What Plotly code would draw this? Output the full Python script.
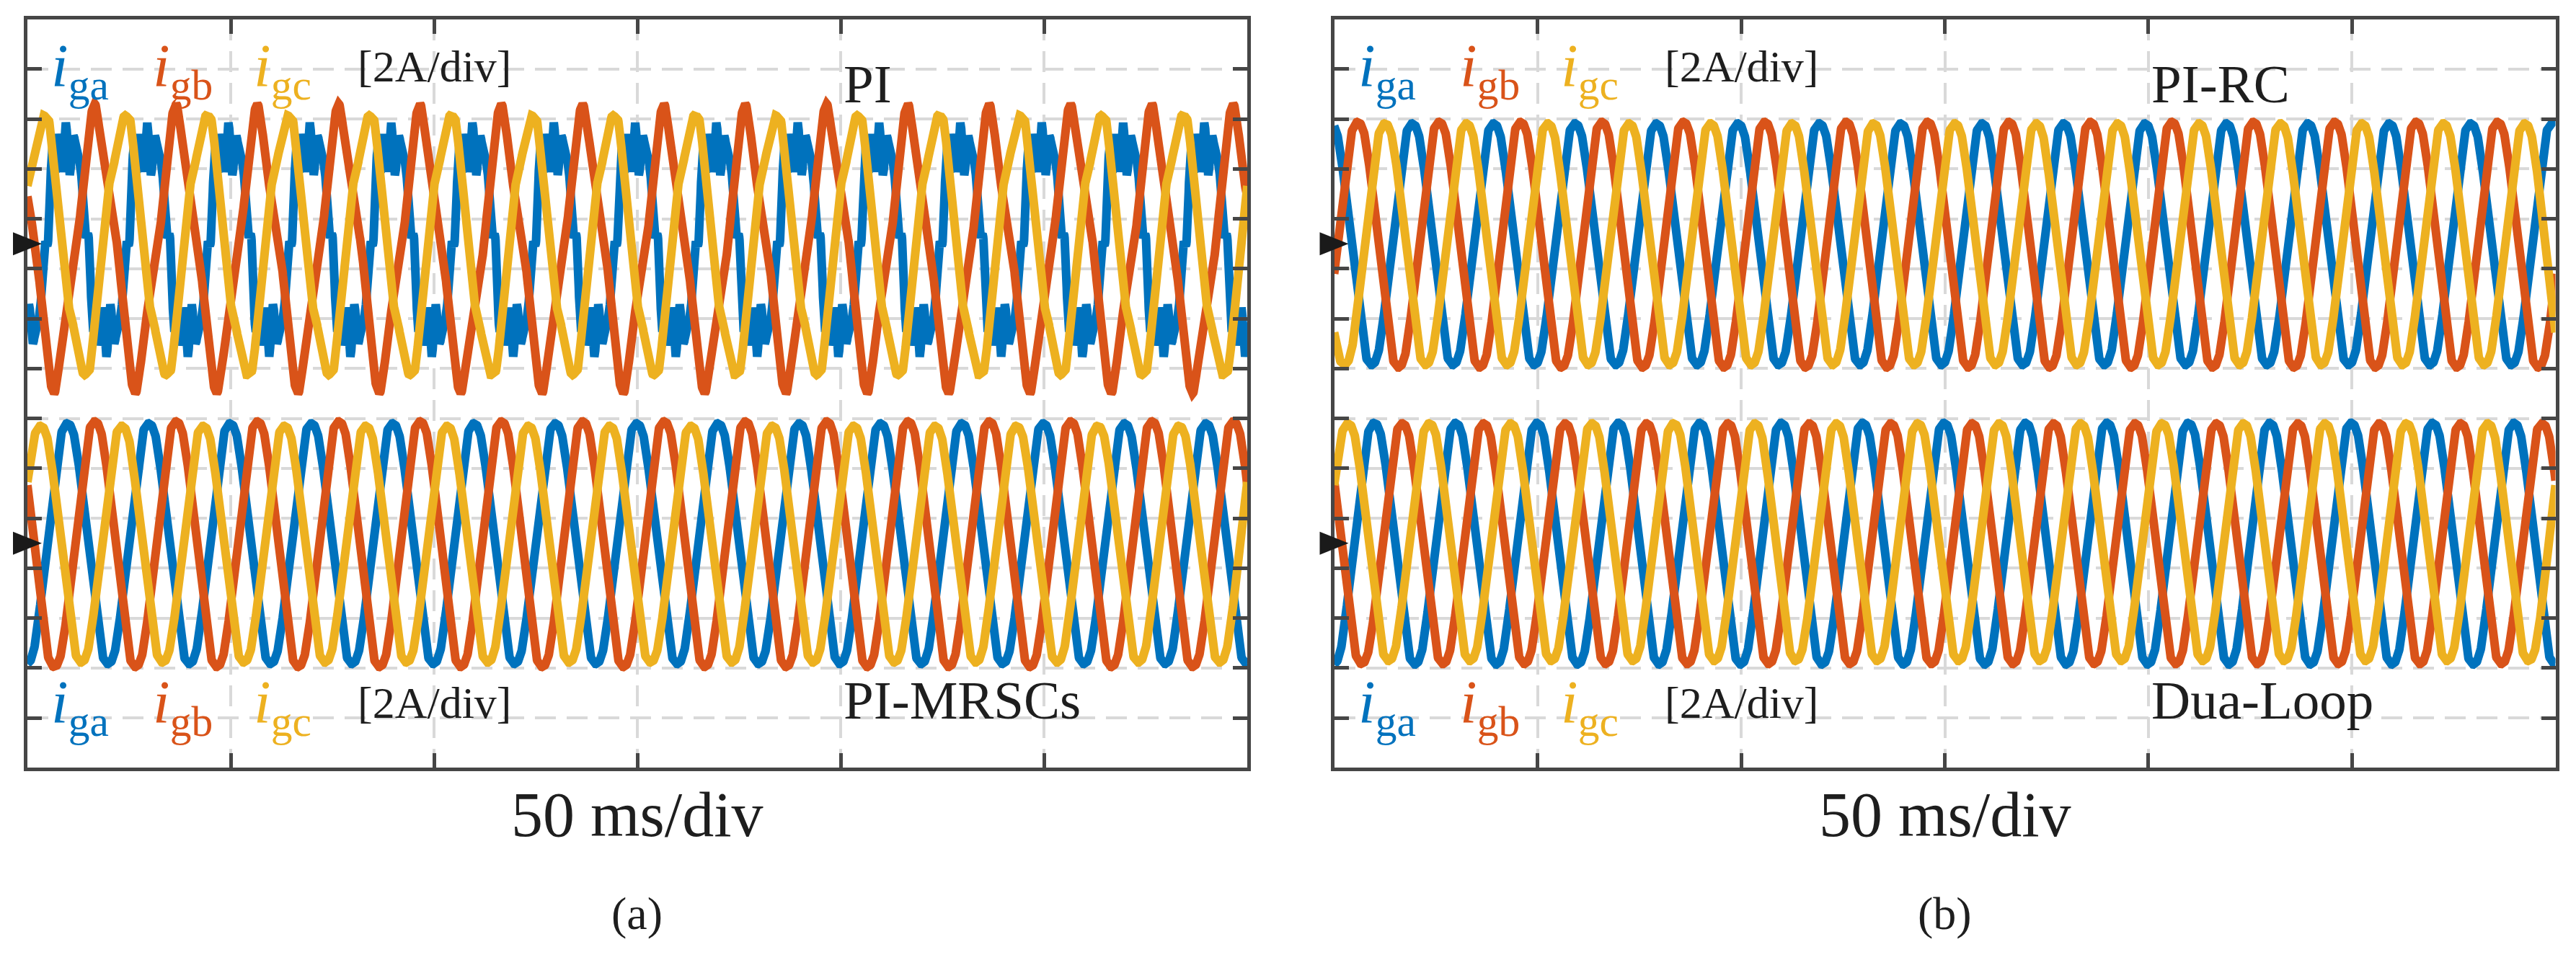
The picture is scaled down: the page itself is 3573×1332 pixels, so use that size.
import numpy as np
import plotly.graph_objects as go

# ---------------- scales ----------------
MS_PER_DIV = 50          # "50 ms/div"
N_DIV_X = 6
N_DIV_Y = 15
FREQ_HZ = 50
T_END_MS = MS_PER_DIV * N_DIV_X

PHASE_NAMES = ["ga", "gb", "gc"]
COLORS = ["#0072BD", "#D95319", "#EDB120"]

# ---------------- panel (a), upper group: PI ----------------
PI_CENTER = [10.58, 10.40, 10.47]      # div
PI_PEAK_MS = [9.6, 16.75, 3.6]          # time of first peak (ms)
PI_AMP = [2.12, 2.55, 2.50]             # fundamental amplitude (div)
PI_HARM_GA = [(3, -0.36, 0), (7, 0.18, 40), (11, 0.34, 10), (13, 0.12, 70)]
PI_HARM_GB = [(3, 0.36, 39), (11, 0.05, 0)]
PI_HARM_GC = [(3, 0.30, -90), (11, 0.05, 0)]

# ---------------- panel (a), lower group: PI-MRSCs ----------------
MRSC_CENTER = [4.49, 4.48, 4.48]
MRSC_PEAK_MS = [9.85, 16.6, 3.25]
MRSC_AMP = [2.45, 2.50, 2.41]
MRSC_HARM_GA = [(5, 0.04, 180)]
MRSC_HARM_GB = [(5, 0.04, 180)]
MRSC_HARM_GC = [(5, 0.04, 180)]

# ---------------- panel (b), upper group: PI-RC ----------------
RC_CENTER = [10.49, 10.48, 10.49]
RC_PEAK_MS = [19.2, 5.8, 12.5]
RC_AMP = [2.46, 2.50, 2.46]
RC_HARM_GA = [(5, 0.04, 180)]
RC_HARM_GB = [(5, 0.04, 180)]
RC_HARM_GC = [(5, 0.04, 180)]

# ---------------- panel (b), lower group: Dua-Loop ----------------
DL_CENTER = [4.49, 4.49, 4.52]
DL_PEAK_MS = [9.85, 16.75, 3.4]
DL_AMP = [2.46, 2.45, 2.42]
DL_HARM_GA = [(5, 0.04, 180)]
DL_HARM_GB = [(5, 0.04, 180)]
DL_HARM_GC = [(5, 0.04, 180)]

# channel reference markers (div)
MARKER_LEVELS = [10.5, 4.5]

# labels
GROUP_TITLES = [["PI", "PI-MRSCs"], ["PI-RC", "Dua-Loop"]]
SCALE_TEXT = "[2A/div]"
X_TITLE = "50 ms/div"
PANEL_TAGS = ["(a)", "(b)"]
LEGEND_X_MS = [5.5, 30.5, 55.3]
SCALE_X_MS = 80.9
TITLE_X_MS = 200.4

GROUPS = [
    [  # panel (a)
        (PI_CENTER, PI_PEAK_MS, PI_AMP, [PI_HARM_GA, PI_HARM_GB, PI_HARM_GC]),
        (MRSC_CENTER, MRSC_PEAK_MS, MRSC_AMP, [MRSC_HARM_GA, MRSC_HARM_GB, MRSC_HARM_GC]),
    ],
    [  # panel (b)
        (RC_CENTER, RC_PEAK_MS, RC_AMP, [RC_HARM_GA, RC_HARM_GB, RC_HARM_GC]),
        (DL_CENTER, DL_PEAK_MS, DL_AMP, [DL_HARM_GA, DL_HARM_GB, DL_HARM_GC]),
    ],
]

t = np.linspace(0, T_END_MS, 4001)


def wave(center, peak_ms, amp, harmonics):
    theta = 2 * np.pi * FREQ_HZ * (t - peak_ms) / 1000.0
    y = center + amp * np.cos(theta)
    for k, a, ph in harmonics:
        y = y + a * np.cos(k * theta + np.deg2rad(ph))
    return y


W, H = 3573, 1332
X_DOMAINS = [[38 / W, 1730 / W], [1850.5 / W, 3544.5 / W]]
Y_DOMAIN = [1 - 1065.25 / H, 1 - 26.5 / H]

AX_COLOR = "#464646"
GRID_COLOR = "#D9D9D9"
TEXT_COLOR = "#1E1E1E"
FONT = "Liberation Serif"

fig = go.Figure()

for p in range(2):
    xref = "x" if p == 0 else "x2"
    yref = "y" if p == 0 else "y2"
    for g, (center, peak, amp, harms) in enumerate(GROUPS[p]):
        for ph in range(3):
            fig.add_trace(go.Scatter(
                x=t, y=wave(center[ph], peak[ph], amp[ph], harms[ph]),
                mode="lines", line=dict(color=COLORS[ph], width=12),
                xaxis=xref, yaxis=yref, hoverinfo="skip", showlegend=False,
            ))

    axis_common = dict(
        showgrid=True, gridcolor=GRID_COLOR, gridwidth=4, griddash="29px,15px",
        zeroline=False, showline=True, linecolor=AX_COLOR, linewidth=5,
        mirror="allticks", ticks="inside", ticklen=20, tickwidth=5,
        tickcolor=AX_COLOR, showticklabels=False, fixedrange=True,
    )
    xkey = "xaxis" if p == 0 else "xaxis2"
    ykey = "yaxis" if p == 0 else "yaxis2"
    fig.update_layout(**{
        xkey: dict(domain=X_DOMAINS[p], range=[0, T_END_MS], tick0=0, dtick=MS_PER_DIV,
                   anchor=yref, **axis_common),
        ykey: dict(domain=Y_DOMAIN, range=[0, N_DIV_Y], tick0=0, dtick=1,
                   anchor=xref, **axis_common),
    })

    # legends, scale text and titles (upper and lower)
    for g, (leg_y, scale_y, title_y) in enumerate([(13.98, 14.05, 13.70), (1.23, 1.31, 1.35)]):
        for ph in range(3):
            fig.add_annotation(
                x=LEGEND_X_MS[ph], y=leg_y, xref=xref, yref=yref,
                text=f"<i>i</i><sub>{PHASE_NAMES[ph]}</sub>", showarrow=False,
                xanchor="left", yanchor="middle",
                font=dict(family=FONT, size=85, color=COLORS[ph]),
            )
        fig.add_annotation(
            x=SCALE_X_MS, y=scale_y, xref=xref, yref=yref, text=SCALE_TEXT,
            showarrow=False, xanchor="left", yanchor="middle",
            font=dict(family=FONT, size=62, color=TEXT_COLOR),
        )
        fig.add_annotation(
            x=TITLE_X_MS, y=title_y, xref=xref, yref=yref, text=GROUP_TITLES[p][g],
            showarrow=False, xanchor="left", yanchor="middle",
            font=dict(family=FONT, size=75, color=TEXT_COLOR),
        )

    # x-axis title and panel tag
    fig.add_annotation(
        x=0.5, y=1 - 1130 / H, xref=f"{xref} domain", yref="paper", text=X_TITLE,
        showarrow=False, xanchor="center", yanchor="middle",
        font=dict(family=FONT, size=88, color=TEXT_COLOR),
    )
    fig.add_annotation(
        x=0.5, y=1 - 1267 / H, xref=f"{xref} domain", yref="paper", text=PANEL_TAGS[p],
        showarrow=False, xanchor="center", yanchor="middle",
        font=dict(family=FONT, size=64, color=TEXT_COLOR),
    )

    # channel reference triangles at the left edge
    for lvl in MARKER_LEVELS:
        fig.add_shape(
            type="path", xref="paper", yref=yref,
            xsizemode="pixel", ysizemode="pixel",
            xanchor=X_DOMAINS[p][0], yanchor=lvl,
            path="M-20,-16 L20,0 L-20,16 Z",
            fillcolor="#1A1A1A", line=dict(width=0), layer="above",
        )

fig.update_layout(
    width=W, height=H, autosize=False,
    margin=dict(l=0, r=0, t=0, b=0, pad=0),
    paper_bgcolor="white", plot_bgcolor="white",
    showlegend=False,
)

fig.write_html(
    "out.html",
    config={"displayModeBar": False},
    post_script="document.body.style.margin='0px';",
)
